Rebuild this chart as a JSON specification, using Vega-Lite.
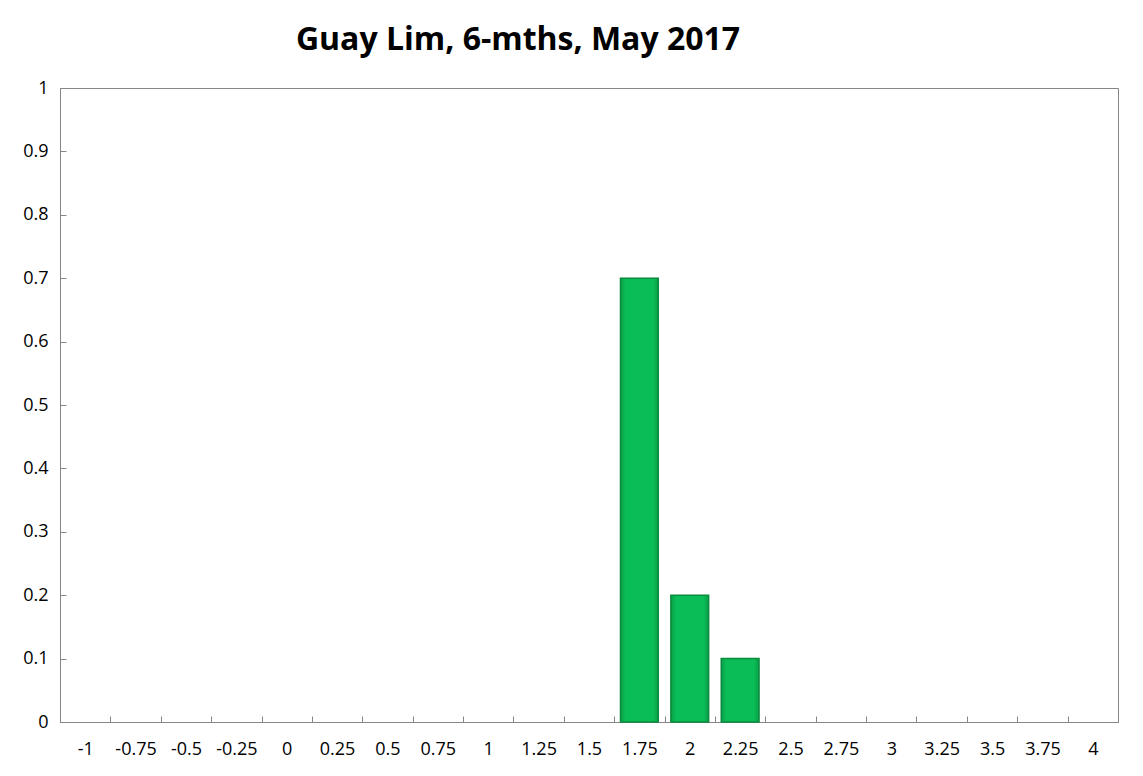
{
  "$schema": "https://vega.github.io/schema/vega-lite/v6.json",
  "width": 1058,
  "height": 634,
  "autosize": {"type": "none"},
  "padding": {"left": 60, "top": 88, "right": 25, "bottom": 54},
  "background": "white",
  "title": {
    "text": "Guay Lim, 6-mths, May 2017",
    "font": "Open Sans",
    "fontSize": 32,
    "fontWeight": "bold",
    "color": "#000000",
    "anchor": "middle",
    "dx": -71,
    "dy": 38,
    "baseline": "alphabetic",
    "offset": 35
  },
  "data": {
    "values": [
      {"bin": "-1", "p": 0},
      {"bin": "-0.75", "p": 0},
      {"bin": "-0.5", "p": 0},
      {"bin": "-0.25", "p": 0},
      {"bin": "0", "p": 0},
      {"bin": "0.25", "p": 0},
      {"bin": "0.5", "p": 0},
      {"bin": "0.75", "p": 0},
      {"bin": "1", "p": 0},
      {"bin": "1.25", "p": 0},
      {"bin": "1.5", "p": 0},
      {"bin": "1.75", "p": 0.7},
      {"bin": "2", "p": 0.2},
      {"bin": "2.25", "p": 0.1},
      {"bin": "2.5", "p": 0},
      {"bin": "2.75", "p": 0},
      {"bin": "3", "p": 0},
      {"bin": "3.25", "p": 0},
      {"bin": "3.5", "p": 0},
      {"bin": "3.75", "p": 0},
      {"bin": "4", "p": 0}
    ]
  },
  "mark": {
    "type": "bar",
    "width": {"band": 0.75},
    "color": {
      "gradient": "linear",
      "x1": 0, "y1": 0, "x2": 1, "y2": 0,
      "stops": [
        {"offset": 0, "color": "#08a048"},
        {"offset": 0.14, "color": "#0bbd56"},
        {"offset": 0.86, "color": "#0bbd56"},
        {"offset": 1, "color": "#08a048"}
      ]
    },
    "stroke": "#0a8a3d",
    "strokeWidth": 1.5
  },
  "encoding": {
    "x": {
      "field": "bin",
      "type": "ordinal",
      "sort": null,
      "scale": {"paddingInner": 0, "paddingOuter": 0},
      "axis": {
        "title": null,
        "labelAngle": 0,
        "tickBand": "extent",
        "tickSize": -6,
        "tickColor": "#868686",
        "domainColor": "#868686",
        "labelFont": "Open Sans",
        "labelFontSize": 18,
        "labelColor": "#000000",
        "labelPadding": 38,
        "labelBaseline": "alphabetic"
      }
    },
    "y": {
      "field": "p",
      "type": "quantitative",
      "scale": {"domain": [0, 1]},
      "axis": {
        "title": null,
        "values": [0, 0.1, 0.2, 0.3, 0.4, 0.5, 0.6, 0.7, 0.8, 0.9, 1],
        "format": ".1~f",
        "grid": false,
        "tickSize": -6,
        "tickColor": "#868686",
        "domainColor": "#868686",
        "labelFont": "Open Sans",
        "labelFontSize": 18,
        "labelColor": "#000000",
        "labelPadding": 18
      }
    },
    "strokeOpacity": {"condition": {"test": "datum.p > 0", "value": 1}, "value": 0}
  },
  "config": {"view": {"stroke": "#868686", "strokeWidth": 1}}
}
